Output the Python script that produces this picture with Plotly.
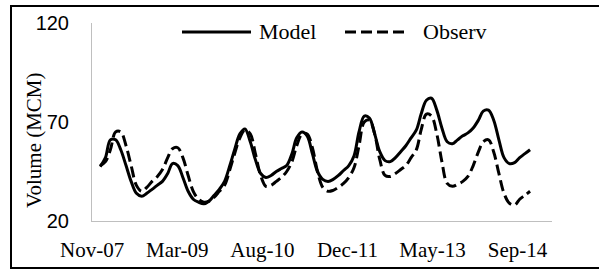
import datetime as dt
import pandas as pd
import plotly.graph_objects as go

# ---- data ----
dates = pd.date_range("2008-01-01", periods=84, freq="MS")

model = [47.5, 52, 61, 61, 56, 48, 40, 34, 32.5, 34, 36, 38,
         40, 44, 49, 48, 42, 35, 31, 29.5, 28.7, 30, 33, 36,
         40, 48, 56, 64, 66.5, 60, 51, 44, 42, 43, 45, 46.5,
         48, 54, 62, 65, 63, 54, 45, 41, 40, 41, 43, 45.5,
         48, 53, 65, 73, 72, 64, 55, 50.5, 50, 52, 55, 58,
         62, 66, 74, 81, 82, 76, 67, 60, 59, 61, 63, 64.5,
         67, 71, 75.5, 76, 71, 61, 52, 49, 49.5, 52, 54, 56]

observ = [48, 50, 56, 65, 65, 58, 48, 38, 35, 37, 40, 42.4,
          46, 52, 56.5, 57, 52, 43, 35, 31, 29.5, 30, 32, 35,
          38, 46, 54, 62, 66, 64, 54, 43, 37.5, 38, 40, 42,
          45, 50, 58, 64, 64, 57, 45, 37, 35, 35.5, 37, 39,
          42, 47, 58, 70, 71, 64, 51, 43, 42.5, 44, 46, 48,
          52, 56, 66, 74, 73, 64, 50, 39, 37.5, 38.5, 40, 42.5,
          48, 55, 60, 61, 55, 44, 34, 29, 28, 31, 33, 35]

series_names = ["Model", "Observ"]
x_tick_labels = ["Nov-07", "Mar-09", "Aug-10", "Dec-11", "May-13", "Sep-14"]
y_tick_values = [20, 70, 120]

# tick positions (Excel date axis, 500-day major unit)
t0 = dt.date(2007, 11, 15)
x_tick_values = [t0 + dt.timedelta(days=500 * i) for i in range(len(x_tick_labels))]

SERIF = "Liberation Serif, Times New Roman, serif"
SANS = "Liberation Sans, Arial, sans-serif"
DASH = "11px,5px"

fig = go.Figure()
fig.add_trace(go.Scatter(x=dates, y=model, name=series_names[0], mode="lines",
                         line=dict(color="black", width=3, shape="spline", smoothing=1),
                         showlegend=False))
fig.add_trace(go.Scatter(x=dates, y=observ, name=series_names[1], mode="lines",
                         line=dict(color="black", width=3, dash=DASH, shape="spline", smoothing=1),
                         showlegend=False))

W, H = 599, 269
L, R, T, B = 92, 47, 23, 48
pw, ph = W - L - R, H - T - B

def px(x):
    return (x - L) / pw

def py(y):
    return (H - B - y) / ph

shapes = [
    # outer chart border (left, top, bottom; right edge lies outside the image)
    dict(type="line", xref="paper", yref="paper", x0=px(11), x1=px(11), y0=py(268), y1=py(6),
         line=dict(color="black", width=2)),
    dict(type="line", xref="paper", yref="paper", x0=px(10), x1=px(599), y0=py(6), y1=py(6),
         line=dict(color="black", width=2)),
    dict(type="line", xref="paper", yref="paper", x0=px(10), x1=px(599), y0=py(268), y1=py(268),
         line=dict(color="black", width=2)),
    # legend samples
    dict(type="line", xref="paper", yref="paper", x0=px(182), x1=px(251), y0=py(32), y1=py(32),
         line=dict(color="black", width=3)),
    dict(type="line", xref="paper", yref="paper", x0=px(345), x1=px(408), y0=py(32), y1=py(32),
         line=dict(color="black", width=3, dash=DASH)),
]

annotations = [
    dict(text=series_names[0], xref="paper", yref="paper", x=px(257), y=py(32), xanchor="left",
         yanchor="middle", showarrow=False, font=dict(family=SERIF, size=22, color="black")),
    dict(text=series_names[1], xref="paper", yref="paper", x=px(421), y=py(32), xanchor="left",
         yanchor="middle", showarrow=False, font=dict(family=SERIF, size=22, color="black")),
    dict(text="Volume (MCM)", xref="paper", yref="paper", x=px(34), y=py(140), textangle=-90,
         xanchor="center", yanchor="middle", showarrow=False,
         font=dict(family=SERIF, size=21, color="black")),
]

fig.update_layout(
    template="none",
    width=W, height=H,
    margin=dict(l=L, r=R, t=T, b=B, pad=0),
    paper_bgcolor="white", plot_bgcolor="white",
    shapes=shapes, annotations=annotations,
    showlegend=False,
    xaxis=dict(type="date", range=["2007-11-14", "2015-04-09"],
               tickvals=x_tick_values, ticktext=x_tick_labels, automargin=False,
               showgrid=False, zeroline=False, showline=True, linecolor="#BFBFBF", linewidth=1,
               ticks="", ticklabelstandoff=10,
               tickfont=dict(family=SERIF, size=21, color="black")),
    yaxis=dict(range=[20, 120], tickvals=y_tick_values, automargin=False,
               showgrid=False, zeroline=False, showline=True, linecolor="#BFBFBF", linewidth=1,
               ticks="", ticklabelstandoff=18,
               tickfont=dict(family=SANS, size=20, color="black")),
)

fig.write_html(
    "out.html",
    config={"displayModeBar": False},
    post_script="document.body.style.margin='0';document.body.style.padding='0';"
                "document.body.style.overflow='hidden';",
)
